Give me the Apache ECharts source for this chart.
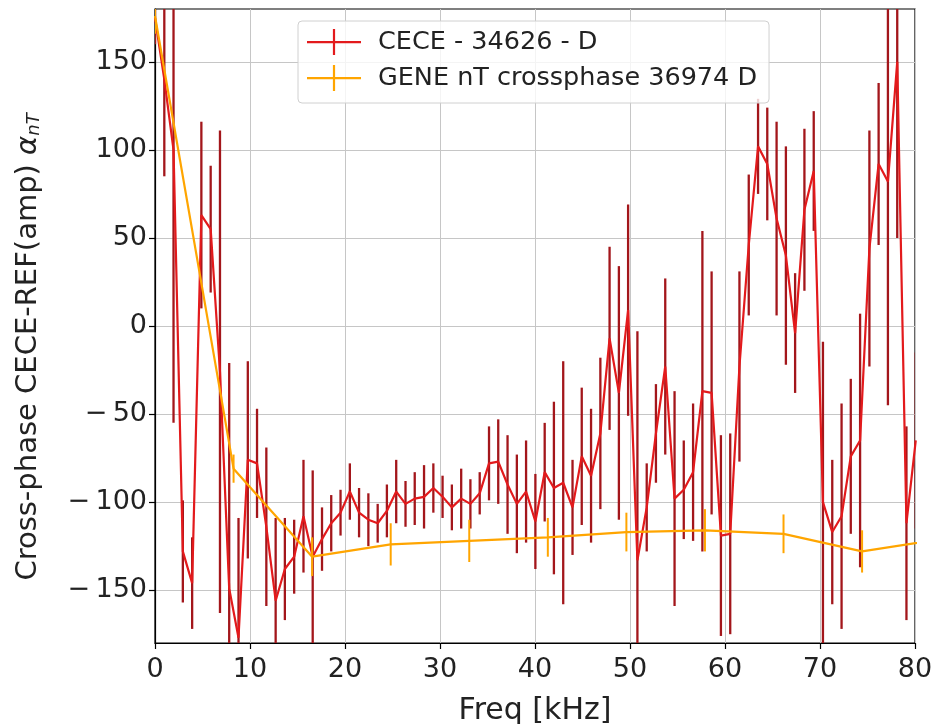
<!DOCTYPE html>
<html>
<head>
<meta charset="utf-8">
<script src="https://cdn.jsdelivr.net/npm/echarts@6/dist/echarts.min.js"></script>
<style>
  html, body { margin: 0; padding: 0; background: #ffffff; }
  #chart { width: 933px; height: 724px; }
</style>
</head>
<body>
<div id="chart"></div>
<script>
// CECE cross-phase spectrum (shot 34626): frequency [kHz], phase [deg], error [deg]
const ceceFreq = [0, 0.98, 1.95, 2.93, 3.91, 4.88, 5.86, 6.84, 7.81, 8.79,
  9.77, 10.74, 11.72, 12.70, 13.67, 14.65, 15.63, 16.60, 17.58, 18.55,
  19.53, 20.51, 21.48, 22.46, 23.44, 24.41, 25.39, 26.37, 27.34, 28.32,
  29.30, 30.27, 31.25, 32.23, 33.20, 34.18, 35.16, 36.13, 37.11, 38.09,
  39.06, 40.04, 41.02, 41.99, 42.97, 43.95, 44.92, 45.90, 46.88, 47.85,
  48.83, 49.80, 50.78, 51.76, 52.73, 53.71, 54.69, 55.66, 56.64, 57.62,
  58.59, 59.57, 60.55, 61.52, 62.50, 63.48, 64.45, 65.43, 66.41, 67.38,
  68.36, 69.34, 70.31, 71.29, 72.27, 73.24, 74.22, 75.20, 76.17, 77.15,
  78.13, 79.10, 80.08];
const cecePhase = [175, 140, 100, -128, -146, 63, 55, -26, -149, -177,
  -76, -78, -114, -156, -138, -131, -108, -131, -121, -112,
  -106, -94, -106, -110, -112, -105, -94, -101, -98, -97,
  -92, -97, -103, -98, -101, -95, -78, -77, -90, -101,
  -94, -111, -83, -92, -89, -103, -74, -85, -61, -7,
  -38, 9, -133, -103, -61, -23, -98, -93, -83, -37,
  -38, -119, -118, -23, 46, 102, 92, 61, 40, -4,
  66, 88, -100, -117, -108, -74, -65, 44, 92, 82,
  150, -112, -65];
const ceceErr = [15, 55, 155, 29, 26, 53, 36, 137, 128, 68,
  56, 31, 45, 47, 29, 21, 32, 49, 18, 16,
  13, 16, 14, 15, 11, 15, 18, 13, 15, 18,
  14, 12, 13, 17, 14, 12, 21, 24, 28, 28,
  29, 27, 28, 49, 69, 27, 39, 38, 43, 52,
  72, 60, 130, 25, 28, 50, 61, 28, 39, 91,
  69, 57, 57, 54, 40, 27, 32, 55, 62, 34,
  46, 34, 91, 41, 64, 44, 72, 67, 46, 127,
  100, 55, 50];

// GENE nT cross-phase (shot 36974)
const geneFreq = [0, 8.27, 16.54, 24.81, 33.08, 41.35, 49.62, 57.89, 66.16, 74.43, 82.70];
const genePhase = [176, -81, -131, -124, -122, -120, -117, -116, -118, -128, -121];
const geneErr = [10, 8, 11, 12, 12, 11, 11, 12, 11, 12, 12];

// Axis ticks
const xTicks = [0, 10, 20, 30, 40, 50, 60, 70, 80];
const yTicks = [-150, -100, -50, 0, 50, 100, 150];

const ceceName = 'CECE - 34626 - D';
const geneName = 'GENE nT crossphase 36974 D';
const ceceLine = '#e31a1c';
const ceceBar = '#a3161b';
const geneColor = '#ffa500';
const textColor = '#222222';
const font = 'DejaVu Sans';

const zip2 = (xs, ys) => xs.map((x, i) => [x, ys[i]]);
const bars = (xs, ys, es) => xs.map((x, i) => [x, ys[i] - es[i], ys[i] + es[i]]);

// vertical error bar without caps, from low to high value
function errorBar(color, width) {
  return function (params, api) {
    const x = api.value(0);
    const a = api.coord([x, api.value(1)]);
    const b = api.coord([x, api.value(2)]);
    return {
      type: 'line',
      shape: { x1: a[0], y1: a[1], x2: b[0], y2: b[1] },
      style: { stroke: color, lineWidth: width }
    };
  };
}

// legend handle: short line crossed by an error bar
const legendIcon = 'path://M0,12 L54,12 L54,14.2 L0,14.2 Z M25.9,0 L28.1,0 L28.1,26 L25.9,26 Z';

const chart = echarts.init(document.getElementById('chart'), null, { renderer: 'canvas' });
chart.setOption({
  animation: false,
  backgroundColor: '#ffffff',
  grid: {
    left: 155, right: 18, top: 9, bottom: 81,
    containLabel: false,
    outerBoundsMode: 'none',
    show: true, borderColor: '#000000', borderWidth: 1.2,
    backgroundColor: 'transparent'
  },
  legend: {
    left: 298, top: 21,
    orient: 'vertical',
    padding: [8, 12, 12, 9],
    itemGap: 10,
    itemWidth: 54, itemHeight: 26,
    backgroundColor: 'rgba(255,255,255,0.8)',
    borderColor: '#d0d0d0', borderWidth: 1, borderRadius: 4,
    textStyle: { fontFamily: font, fontSize: 25.5, color: textColor, padding: [0, 0, 0, 12] },
    data: [
      { name: ceceName, icon: legendIcon, itemStyle: { color: ceceLine } },
      { name: geneName, icon: legendIcon, itemStyle: { color: geneColor } }
    ]
  },
  xAxis: {
    type: 'value', min: 0, max: 80, interval: 10,
    name: 'Freq [kHz]', nameLocation: 'middle', nameGap: 53,
    nameTextStyle: { fontFamily: font, fontSize: 30, color: textColor },
    axisLine: { show: true, onZero: false, lineStyle: { color: '#000000', width: 1.2 } },
    axisTick: { show: true, inside: false, length: 6, lineStyle: { color: '#000000', width: 1.2 } },
    axisLabel: { fontFamily: font, fontSize: 27, color: textColor, margin: 13,
      customValues: xTicks },
    splitLine: { show: true, lineStyle: { color: '#c6c6c6', width: 1 } }
  },
  yAxis: {
    type: 'value', min: -180, max: 180,
    name: 'Cross-phase CECE-REF(amp) {a|α}{b|nT}',
    nameLocation: 'middle', nameGap: 112, nameRotate: 90,
    nameTextStyle: {
      fontFamily: font, fontSize: 29, color: textColor,
      padding: [0, 42, 0, 0],
      rich: {
        a: { fontFamily: font, fontSize: 29, fontStyle: 'italic', color: textColor },
        b: { fontFamily: font, fontSize: 18, fontStyle: 'italic', color: textColor,
             verticalAlign: 'bottom', padding: [12, 0, 0, 0] }
      }
    },
    axisLine: { show: true, onZero: false, lineStyle: { color: '#000000', width: 1.2 } },
    axisTick: { show: true, inside: false, length: 6, customValues: yTicks,
      lineStyle: { color: '#000000', width: 1.2 } },
    axisLabel: {
      fontFamily: font, fontSize: 27, color: textColor, margin: 8,
      customValues: yTicks,
      formatter: v => (v < 0 ? '\u2212\u2009' + (-v) : String(v))
    },
    splitLine: { show: true, lineStyle: { color: '#c6c6c6', width: 1 } }
  },
  series: [
    {
      name: ceceName + ' err', type: 'custom', clip: true, z: 2,
      renderItem: errorBar(ceceBar, 2.3),
      encode: { x: 0, y: [1, 2] },
      data: bars(ceceFreq, cecePhase, ceceErr)
    },
    {
      name: ceceName, type: 'line', clip: true, z: 3,
      symbol: 'none', color: ceceLine,
      lineStyle: { color: ceceLine, width: 2.2 },
      data: zip2(ceceFreq, cecePhase)
    },
    {
      name: geneName + ' err', type: 'custom', clip: true, z: 4,
      renderItem: errorBar(geneColor, 2),
      encode: { x: 0, y: [1, 2] },
      data: bars(geneFreq, genePhase, geneErr)
    },
    {
      name: geneName, type: 'line', clip: true, z: 5,
      symbol: 'none', color: geneColor,
      lineStyle: { color: geneColor, width: 2.2 },
      data: zip2(geneFreq, genePhase)
    }
  ]
});
</script>
</body>
</html>
